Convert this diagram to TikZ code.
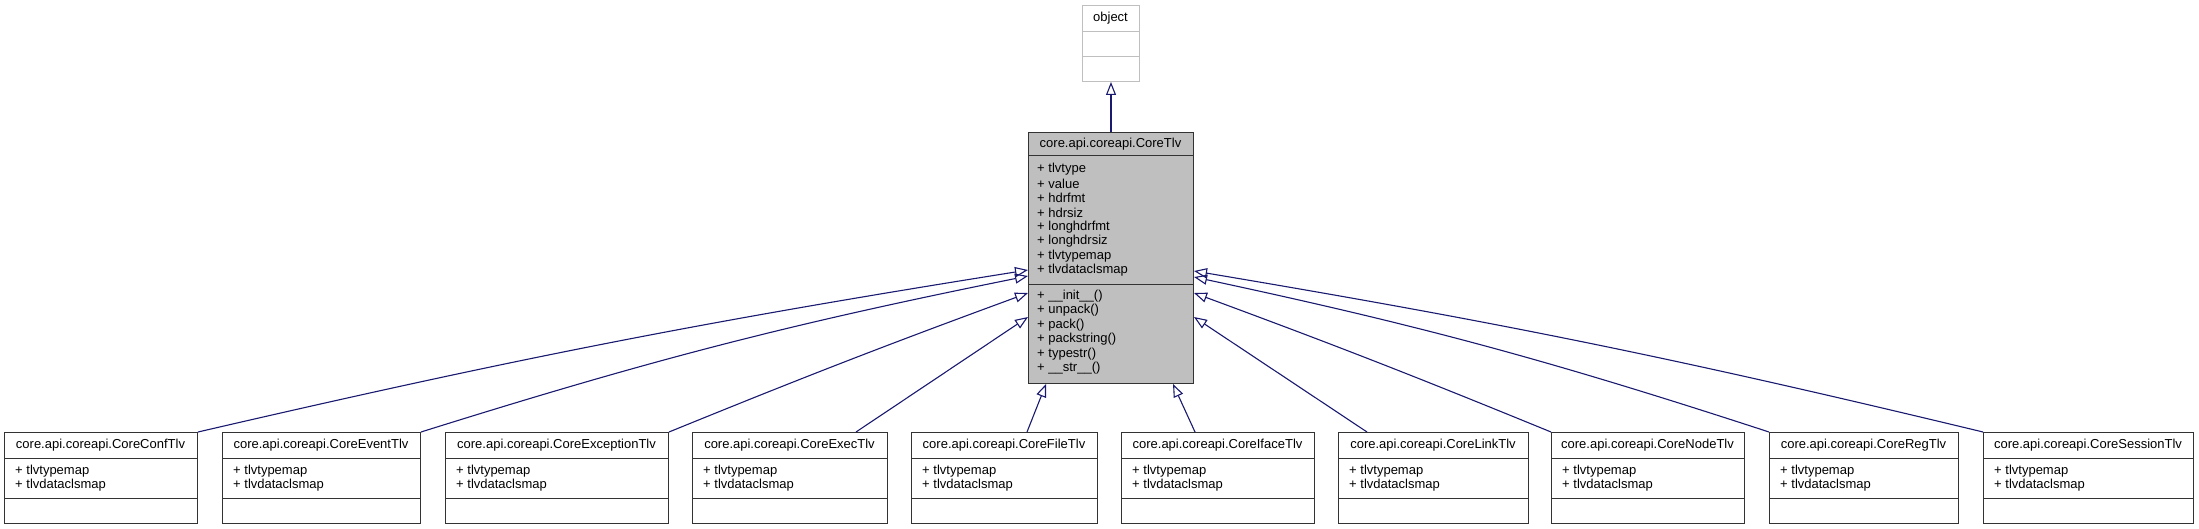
\documentclass[tikz,border=0pt]{standalone}
\usepackage{fontspec}
\setmainfont{Liberation Sans}
\usetikzlibrary{arrows.meta}
\definecolor{edgec}{HTML}{191970}
\definecolor{tlvfill}{HTML}{BFBFBF}
\definecolor{objc}{HTML}{BFBFBF}
\tikzset{
  box/.style={draw=black!80, line width=1pt, rectangle, inner sep=0pt, anchor=north west},
  div/.style={draw=black!80, line width=1pt},
  txt/.style={font=\fontsize{13}{14.5}\selectfont, inner sep=0pt, text=black},
  mem/.style={txt, anchor=west},
  inh/.style={draw=edgec, line width=1.1pt, -{Triangle[open,length=13pt,width=10pt]}},
}
\newcommand\umlbox[9]{%
  \node[box,#9,minimum width={(#3-#2)*1pt},minimum height={(#7-#4)*1pt}] (#1) at (#2,#4) {};
  \draw[div,#9] (#2,#5) -- (#3,#5);
  \draw[div,#9] (#2,#6) -- (#3,#6);
  \node[txt] (#1-title) at ({(#2+#3)/2},{(#4+#5)/2}) {#8};
}
\newcommand\kid[4]{%
  \umlbox{#1}{#2}{#3}{432}{458}{498}{523}{#4}{}
  \node[mem] (#1-a1) at (#2+11,471) {+ tlvtypemap};
  \node[mem] (#1-a2) at (#2+11,485.5) {+ tlvdataclsmap};
}
\begin{document}
\begin{tikzpicture}[x=1pt,y=-1pt]
\path[fill=white,use as bounding box] (0,0) rectangle (2199,529);
% object
\umlbox{obj}{1082}{1139}{5}{32}{57}{81}{object}{draw=objc}
% CoreTlv
\umlbox{tlv}{1028}{1193}{132}{156}{284}{383}{core.api.coreapi.CoreTlv}{fill=tlvfill}
\foreach \t [count=\i from 0] in {tlvtype,value,hdrfmt,hdrsiz,longhdrfmt,longhdrsiz,tlvtypemap,tlvdataclsmap}
  \node[mem] (tlv-a\i) at (1037,169+14.5*\i) {+ \t};
\node[mem] (tlv-m0) at (1037,296) {+ \_\_init\_\_()};
\node[mem] (tlv-m1) at (1037,310.5) {+ unpack()};
\node[mem] (tlv-m2) at (1037,325) {+ pack()};
\node[mem] (tlv-m3) at (1037,339.5) {+ packstring()};
\node[mem] (tlv-m4) at (1037,354) {+ typestr()};
\node[mem] (tlv-m5) at (1037,368.5) {+ \_\_str\_\_()};
% children
\kid{conf}{4}{197}{core.api.coreapi.CoreConfTlv}
\kid{event}{222}{420}{core.api.coreapi.CoreEventTlv}
\kid{exc}{445}{668}{core.api.coreapi.CoreExceptionTlv}
\kid{exec}{692}{887}{core.api.coreapi.CoreExecTlv}
\kid{file}{911}{1097}{core.api.coreapi.CoreFileTlv}
\kid{iface}{1121}{1314}{core.api.coreapi.CoreIfaceTlv}
\kid{link}{1338}{1528}{core.api.coreapi.CoreLinkTlv}
\kid{nodet}{1551}{1744}{core.api.coreapi.CoreNodeTlv}
\kid{reg}{1769}{1958}{core.api.coreapi.CoreRegTlv}
\kid{sess}{1983}{2193}{core.api.coreapi.CoreSessionTlv}
% edges
\draw[inh] (tlv.north) -- (obj.south);
\draw[inh] (conf.north east) to[bend left=2] ([yshift=-138pt]tlv.north west);
\draw[inh] (event.north east) to[bend left=3] ([yshift=-144pt]tlv.north west);
\draw[inh] (exc.north east) to[bend left=1] ([yshift=-161pt]tlv.north west);
\draw[inh] ([xshift=-32pt]exec.north east) -- ([yshift=-185pt]tlv.north west);
\draw[inh] ([xshift=116pt]file.north west) -- ([xshift=18pt]tlv.south west);
\draw[inh] ([xshift=74pt]iface.north west) -- ([xshift=-21pt]tlv.south east);
\draw[inh] ([xshift=29pt]link.north west) -- ([yshift=-185pt]tlv.north east);
\draw[inh] (nodet.north west) to[bend right=1] ([yshift=-161pt]tlv.north east);
\draw[inh] (reg.north west) to[bend right=3] ([yshift=-145pt]tlv.north east);
\draw[inh] (sess.north west) to[bend right=2] ([yshift=-139pt]tlv.north east);
\end{tikzpicture}
\end{document}
